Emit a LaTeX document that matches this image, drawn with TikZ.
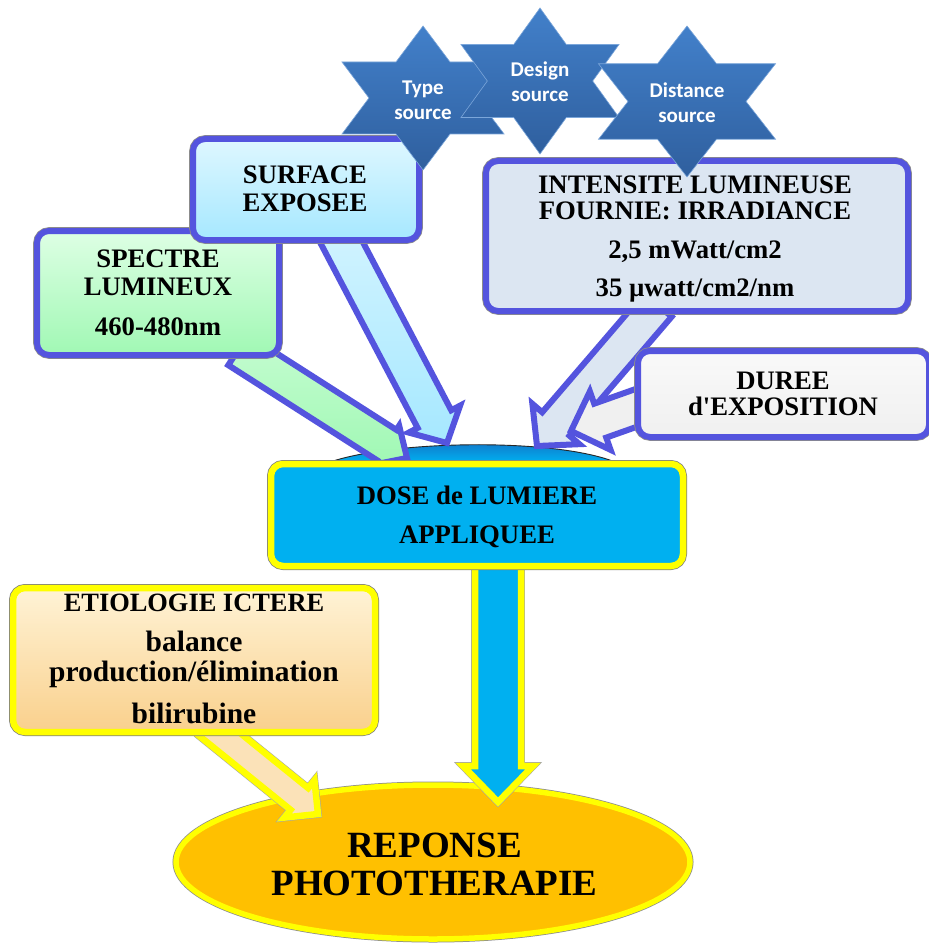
\documentclass[tikz,border=0pt]{standalone}
\usepackage{fontspec}
\setmainfont{Liberation Serif}[Ligatures=TeXOff]
\newfontfamily\starfont{Carlito}
\usetikzlibrary{calc,shapes.geometric}

\definecolor{bord}{RGB}{84,84,222}
\definecolor{dosec}{RGB}{0,176,240}
\definecolor{yel}{RGB}{255,255,0}
\definecolor{orangec}{RGB}{255,192,0}
\definecolor{steelc}{RGB}{220,230,242}
\definecolor{grayc}{RGB}{240,240,240}
\definecolor{greenA}{RGB}{222,255,228}
\definecolor{greenB}{RGB}{160,248,180}
\definecolor{cyanA}{RGB}{222,247,255}
\definecolor{cyanB}{RGB}{166,232,255}
\definecolor{peachA}{RGB}{255,243,214}
\definecolor{peachB}{RGB}{249,208,140}
\definecolor{peachArr}{RGB}{251,226,184}
\definecolor{startop}{RGB}{66,128,202}
\definecolor{starbot}{RGB}{47,95,158}
\definecolor{lensdark}{RGB}{20,110,195}

\tikzset{
  bluebox/.style={draw=bord, line width=6pt, rounded corners=12pt,
    preaction={draw=black!45, line width=7.6pt}, inner sep=0pt},
  yelbox/.style={draw=yel, line width=6.5pt, rounded corners=12pt,
    preaction={draw=black!50, line width=8pt}, inner sep=0pt},
  txt/.style={font=\bfseries\fontsize{26.7}{28}\selectfont, align=center, inner sep=0pt, text=black},
  startxt/.style={font=\starfont\bfseries\fontsize{21}{25}\selectfont, align=center, text=white, inner sep=0pt},
  bluearrow/.style={draw=bord, line width=6pt, line join=miter, miter limit=10},
  yelarrow/.style={draw=yel, line width=6.5pt, line join=miter, miter limit=10,
    preaction={draw=black!35, line width=7.6pt}},
  starshape/.style={top color=startop, bottom color=starbot, draw=startop!70!white, line width=0.6pt},
  lensshape/.style={top color=lensdark, bottom color=dosec, draw=black!85, line width=0.9pt},
}

% #1 name, #2 style, #3 start, #4 tip, #5 shaft half width, #6 head half width, #7 head length
\newcommand{\blockarr}[7]{%
  \coordinate (#1-b) at ($(#4)!#7!(#3)$);
  \path[#2] ($(#3)!#5!90:(#4)$) -- ($(#1-b)!#5!90:(#4)$) -- ($(#1-b)!#6!90:(#4)$)
    -- (#4) -- ($(#1-b)!#6!-90:(#4)$) -- ($(#1-b)!#5!-90:(#4)$) -- ($(#3)!#5!-90:(#4)$) -- cycle;
}

% #1 cx, #2 cy, #3 outer radius, #4 horizontal stretch
\newcommand{\hexstar}[4]{%
  \begin{scope}[shift={(#1,#2)}, xscale=#4]
    \pgfmathsetmacro\hsri{#3*0.57735}
    \path[starshape] (90:#3) -- (60:\hsri) -- (30:#3) -- (0:\hsri) -- (-30:#3) -- (-60:\hsri)
      -- (-90:#3) -- (-120:\hsri) -- (-150:#3) -- (180:\hsri) -- (150:#3) -- (120:\hsri) -- cycle;
  \end{scope}
}

\begin{document}
\begin{tikzpicture}[x=1pt,y=-1pt]
\useasboundingbox (0,0) rectangle (928,944);
\fill[white] (0,0) rectangle (928,944);

% lens behind the dose box
\path[lensshape] (330,462) .. controls (395,440) and (555,438) .. (615,462) -- cycle;

% result ellipse
\node[ellipse, draw=yel, line width=5.5pt, fill=orangec, preaction={draw=black!45, line width=7pt},
      minimum width=514pt, minimum height=154pt, inner sep=0pt] (rep) at (433,862) {};

% arrow end points
\coordinate (gS) at (238,350);  \coordinate (gT) at (407,458);
\coordinate (cS) at (334,228);  \coordinate (cT) at (447,443);
\coordinate (sS) at (658,305);  \coordinate (sT) at (537,446);
\coordinate (dS) at (650,403);  \coordinate (dT) at (571,431);
\coordinate (vS) at (498,560);  \coordinate (vT) at (498,802);
\coordinate (pS) at (208,725);  \coordinate (pT) at (318,814);

\blockarr{ga}{bluearrow, top color=greenA!60!greenB, bottom color=greenB}{gS}{gT}{18pt}{23pt}{24pt}
\blockarr{ca}{bluearrow, top color=cyanA!80!cyanB, bottom color=cyanB}{cS}{cT}{19pt}{29pt}{27pt}
\blockarr{sa}{bluearrow, fill=steelc}{sS}{sT}{18pt}{31pt}{29pt}
\blockarr{da}{bluearrow, fill=grayc}{dS}{dT}{18pt}{31pt}{31pt}
\blockarr{va}{yelarrow, fill=dosec}{vS}{vT}{23pt}{35pt}{36pt}
\blockarr{pa}{yelarrow, fill=peachArr}{pS}{pT}{14pt}{24pt}{24pt}

% boxes
\node[bluebox, top color=greenA, bottom color=greenB, minimum width=242pt, minimum height=124pt] (spectre) at (158,293) {};
\node[bluebox, top color=cyanA, bottom color=cyanB, minimum width=226pt, minimum height=101pt] (surface) at (306,189.5) {};
\node[bluebox, fill=steelc, minimum width=422pt, minimum height=150pt] (intens) at (697,236) {};
\node[bluebox, top color=grayc!40!white, bottom color=grayc, minimum width=291pt, minimum height=86pt] (duree) at (783.5,394) {};
\node[yelbox, fill=dosec, minimum width=412pt, minimum height=102pt] (dose) at (477,515) {};
\node[yelbox, top color=peachA, bottom color=peachB, minimum width=362pt, minimum height=144pt] (etio) at (194,660) {};

% stars
\hexstar{423}{98}{72}{1.30}
\hexstar{540}{81}{73}{1.25}
\hexstar{687}{101.5}{75.5}{1.354}

% texts
\node[startxt] (star1) at (423,99.8) {Type\\source};
\node[startxt] (star2) at (540,81.8) {Design\\source};
\node[startxt] (star3) at (687,102.8) {Distance\\source};

\node[txt] (spectre-t) at (158,293) {SPECTRE\\LUMINEUX\\[12pt]460-480nm};
\node[txt] (surface-t) at (305,189) {SURFACE\\EXPOSEE};
\node[txt, font=\bfseries\fontsize{26.7}{26}\selectfont] (intens-t) at (695,239)
  {INTENSITE LUMINEUSE\\FOURNIE: IRRADIANCE\\[13pt]2,5 mWatt/cm2\\[12pt]35 µwatt/cm2/nm};
\node[txt, font=\bfseries\fontsize{26.7}{26}\selectfont] (duree-t) at (783,394) {DUREE\\d'EXPOSITION};
\node[txt, font=\bfseries\fontsize{26.7}{39}\selectfont] (dose-t) at (477,517) {DOSE de LUMIERE\\APPLIQUEE};
\node[txt, font=\bfseries\fontsize{29.5}{30}\selectfont] (etio-t) at (194,659.4)
  {{\fontsize{26.4}{30}\selectfont ETIOLOGIE ICTERE}\\[10pt]balance\\production/élimination\\[12pt]bilirubine};
\node[txt, font=\bfseries\fontsize{37}{38}\selectfont] (rep-t) at (434.5,864) {REPONSE\\PHOTOTHERAPIE};
\end{tikzpicture}
\end{document}
